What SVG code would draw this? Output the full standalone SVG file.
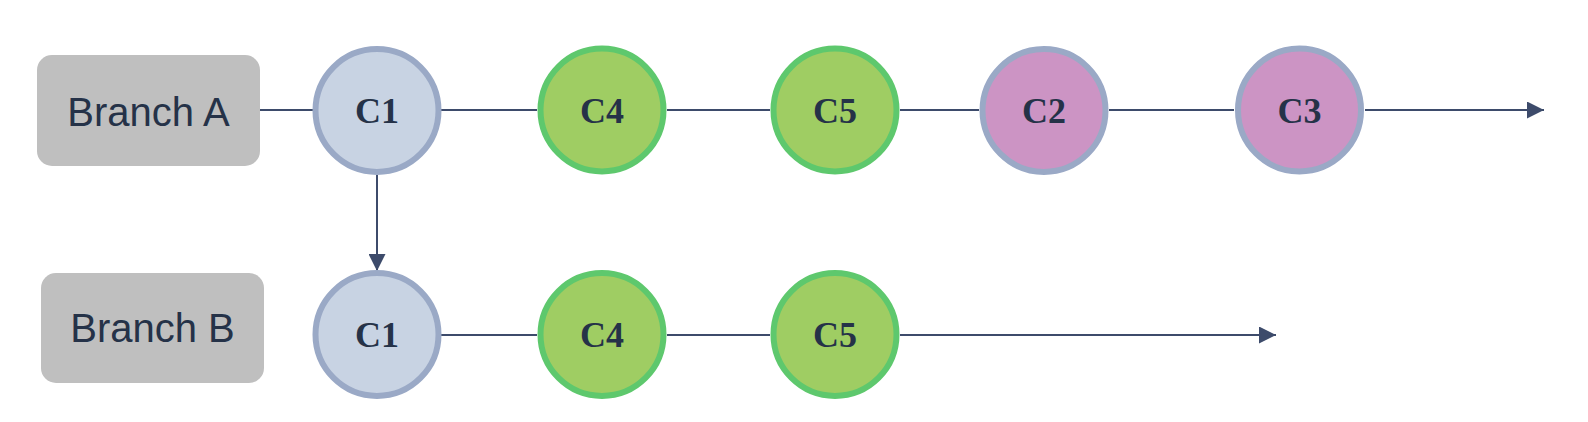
<svg xmlns="http://www.w3.org/2000/svg" width="1588" height="422" viewBox="0 0 1588 422">
<style>
.branch{fill:#bfbfbf}
.blabel{font-family:"Liberation Sans",Arial,sans-serif;font-size:40px;fill:#253248;text-anchor:middle}
.clabel{font-family:"Liberation Serif","Times New Roman",serif;font-size:36px;font-weight:bold;fill:#253248;text-anchor:middle}
.base{fill:#c8d3e3;stroke:#9aa9c6;stroke-width:6}
.green{fill:#9fcd63;stroke:#5ec86d;stroke-width:6}
.pink{fill:#cc94c4;stroke:#9aa9c6;stroke-width:6}
.edge{stroke:#3d4b6b;stroke-width:2;fill:none}
</style>
<defs>
<marker id="arr" markerUnits="userSpaceOnUse" markerWidth="17" markerHeight="17" refX="17" refY="8.5" orient="auto">
<path d="M0,0 L17,8.5 L0,17 z" fill="#3d4b6b"/>
</marker>
</defs>
<g id="connectors">
<line class="edge" x1="260" y1="110" x2="313" y2="110"/>
<line class="edge" x1="441" y1="110" x2="537" y2="110"/>
<line class="edge" x1="667" y1="110" x2="770" y2="110"/>
<line class="edge" x1="900" y1="110" x2="979" y2="110"/>
<line class="edge" x1="1109" y1="110" x2="1234" y2="110"/>
<line class="edge" x1="1365" y1="110" x2="1544" y2="110" marker-end="url(#arr)"/>
<line class="edge" x1="377" y1="175" x2="377" y2="271" marker-end="url(#arr)"/>
<line class="edge" x1="441" y1="335" x2="537" y2="335"/>
<line class="edge" x1="667" y1="335" x2="770" y2="335"/>
<line class="edge" x1="900" y1="335" x2="1276" y2="335" marker-end="url(#arr)"/>
</g>
<g id="branchA">
<rect class="branch" x="37" y="55" width="223" height="111" rx="15"/>
<text class="blabel" x="148.5" y="126">Branch A</text>
</g>
<g id="branchB">
<rect class="branch" x="41" y="273" width="223" height="110" rx="15"/>
<text class="blabel" x="152.5" y="342">Branch B</text>
</g>
<g id="a_c1"><circle class="base" cx="377" cy="110.5" r="61.5"/><text class="clabel" x="377" y="123">C1</text></g>
<g id="a_c4"><circle class="green" cx="602" cy="110" r="61.5"/><text class="clabel" x="602" y="122.5">C4</text></g>
<g id="a_c5"><circle class="green" cx="835" cy="110" r="61.5"/><text class="clabel" x="835" y="122.5">C5</text></g>
<g id="a_c2"><circle class="pink" cx="1044" cy="110.5" r="61.5"/><text class="clabel" x="1044" y="123">C2</text></g>
<g id="a_c3"><circle class="pink" cx="1299.5" cy="110" r="61.5"/><text class="clabel" x="1299.5" y="122.5">C3</text></g>
<g id="b_c1"><circle class="base" cx="377" cy="334.5" r="61.5"/><text class="clabel" x="377" y="347">C1</text></g>
<g id="b_c4"><circle class="green" cx="602" cy="334.5" r="61.5"/><text class="clabel" x="602" y="347">C4</text></g>
<g id="b_c5"><circle class="green" cx="835" cy="334.5" r="61.5"/><text class="clabel" x="835" y="347">C5</text></g>
</svg>
